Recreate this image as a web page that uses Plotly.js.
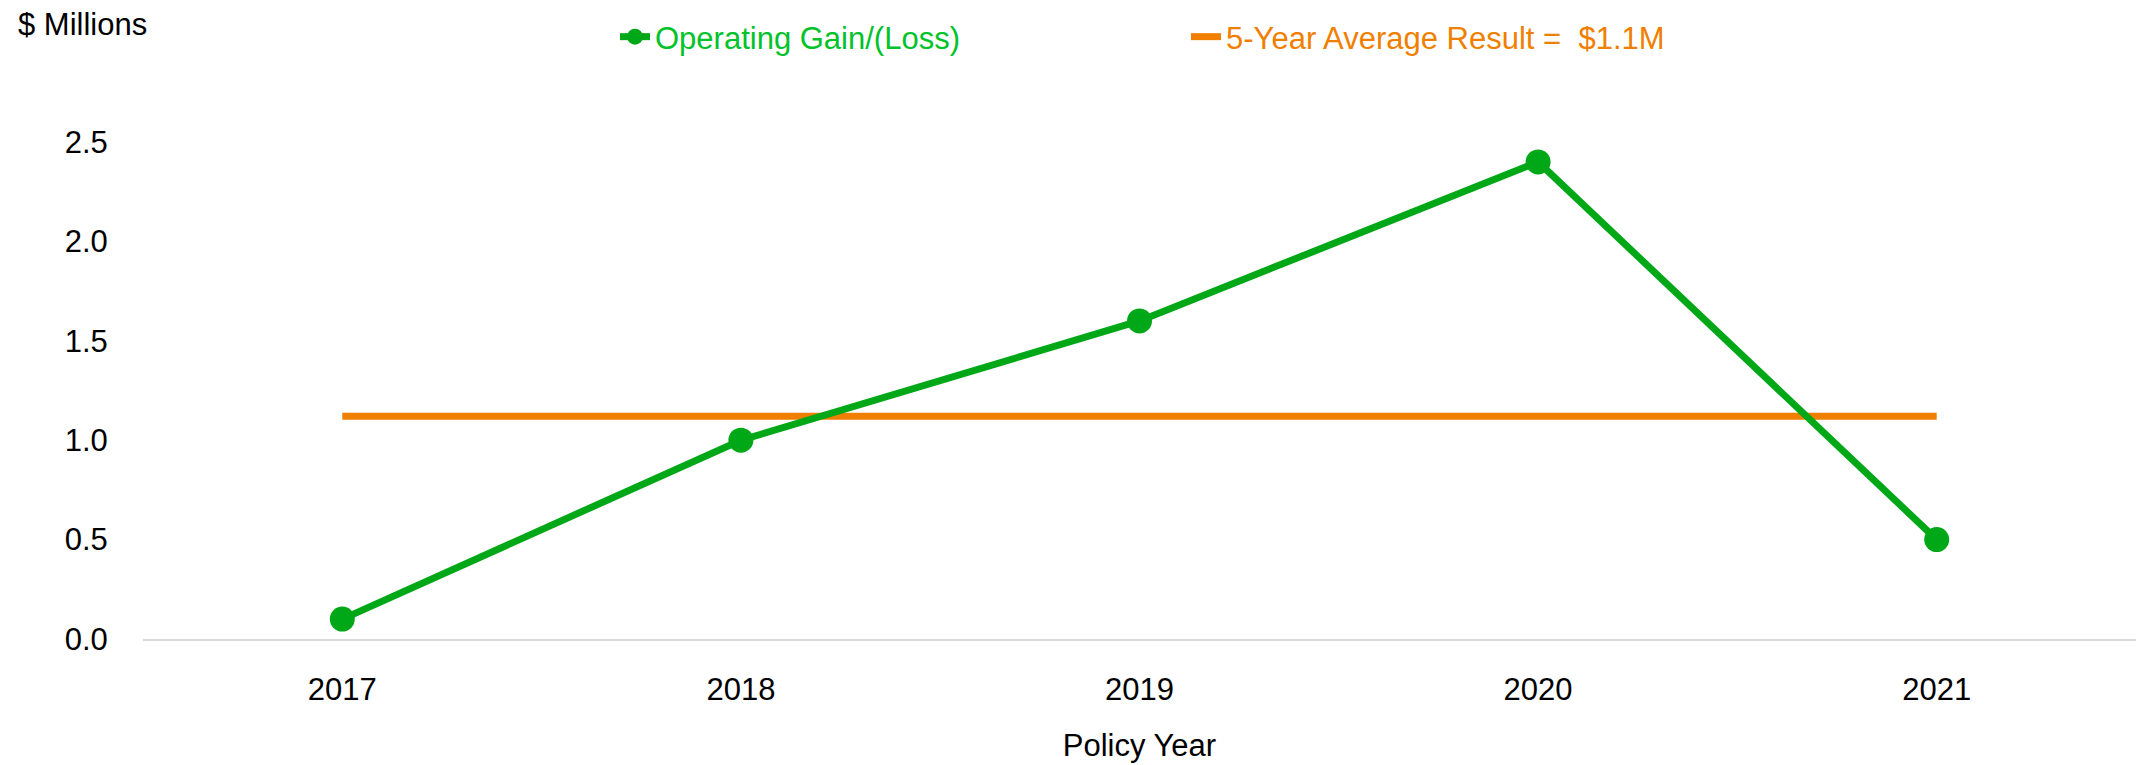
<!DOCTYPE html>
<html>
<head>
<meta charset="utf-8">
<script src="https://cdn.plot.ly/plotly-3.0.1.min.js"></script>
<style>html,body{margin:0;padding:0;background:#fff;}#chart{width:2136px;height:765px;}</style>
</head>
<body>
<div id="chart"></div>
<script>
const years = ['2017', '2018', '2019', '2020', '2021'];
const operatingGain = [0.1, 1.0, 1.6, 2.4, 0.5];
const fiveYearAverage = [1.12, 1.12, 1.12, 1.12, 1.12];
const yTickValues = [0, 0.5, 1.0, 1.5, 2.0, 2.5];
const gainName = 'Operating Gain/(Loss)';
const avgName = '5-Year Average Result =  $1.1M';
const yAxisLabel = '$ Millions';
const xAxisLabel = 'Policy Year';

const GREEN = '#00A817';
const GREEN_TEXT = '#00C22A';
const ORANGE = '#F07F00';
const FONT = 'Liberation Sans, Arial, sans-serif';

const traces = [
  {
    x: years, y: fiveYearAverage, name: avgName, type: 'scatter', mode: 'lines',
    line: {color: ORANGE, width: 7}, legend: 'legend2', cliponaxis: false
  },
  {
    x: years, y: operatingGain, name: gainName, type: 'scatter', mode: 'lines+markers',
    line: {color: GREEN, width: 7}, marker: {color: GREEN, size: 25},
    legend: 'legend', cliponaxis: false
  }
];

const layout = {
  width: 2136, height: 765,
  margin: {l: 143, r: 0, t: 142, b: 126},
  paper_bgcolor: '#fff', plot_bgcolor: '#fff',
  font: {family: FONT, size: 31, color: '#000'},
  showlegend: true,
  legend: {
    xref: 'container', yref: 'container', x: 615/2136, y: 1 - 37/765,
    xanchor: 'left', yanchor: 'middle', orientation: 'h',
    font: {family: FONT, size: 31, color: GREEN_TEXT}, bgcolor: 'rgba(0,0,0,0)'
  },
  legend2: {
    xref: 'container', yref: 'container', x: 1186/2136, y: 1 - 37/765,
    xanchor: 'left', yanchor: 'middle', orientation: 'h',
    font: {family: FONT, size: 31, color: ORANGE}, bgcolor: 'rgba(0,0,0,0)'
  },
  xaxis: {
    type: 'category', range: [-0.5, 4.5], showgrid: false, zeroline: false,
    showline: true, linecolor: '#d9d9d9', linewidth: 2,
    ticks: 'outside', ticklen: 22, tickcolor: 'rgba(0,0,0,0)',
    tickfont: {family: FONT, size: 31, color: '#000'},
    title: {text: xAxisLabel, font: {family: FONT, size: 31, color: '#000'}, standoff: 28},
    automargin: false, fixedrange: true
  },
  yaxis: {
    range: [0, 2.5], tickvals: yTickValues, tickformat: '.1f',
    showgrid: false, zeroline: false, showline: false,
    ticks: 'outside', ticklen: 28, tickcolor: 'rgba(0,0,0,0)',
    tickfont: {family: FONT, size: 31, color: '#000'},
    automargin: false, fixedrange: true
  },
  annotations: [
    {text: yAxisLabel, xref: 'paper', yref: 'paper', x: 0, y: (639 - 25) / (639 - 142),
     xshift: -127, xanchor: 'left', yanchor: 'middle', showarrow: false,
     font: {family: FONT, size: 31, color: '#000'}}
  ]
};

Plotly.newPlot('chart', traces, layout, {staticPlot: true, displayModeBar: false});
</script>
</body>
</html>
